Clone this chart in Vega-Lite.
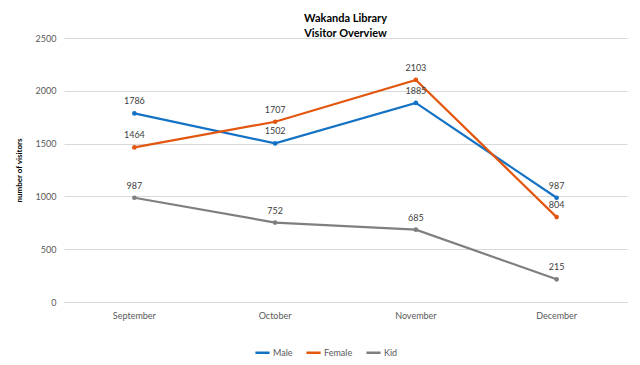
{
  "$schema": "https://vega.github.io/schema/vega-lite/v6.json",
  "width": 640,
  "height": 365,
  "autosize": {"type": "fit", "contains": "padding"},
  "padding": {"left": 15, "right": 13, "top": 13, "bottom": 45},
  "background": "white",
  "title": {
    "text": ["Wakanda Library", "Visitor Overview"],
    "font": "Lato",
    "fontSize": 11,
    "fontWeight": "bold",
    "color": "#000000",
    "lineHeight": 15,
    "anchor": "middle",
    "offset": -5
  },
  "data": {
    "values": [
      {"month": "September", "group": "Male", "visitors": 1786},
      {"month": "October", "group": "Male", "visitors": 1502},
      {"month": "November", "group": "Male", "visitors": 1885},
      {"month": "December", "group": "Male", "visitors": 987},
      {"month": "September", "group": "Female", "visitors": 1464},
      {"month": "October", "group": "Female", "visitors": 1707},
      {"month": "November", "group": "Female", "visitors": 2103},
      {"month": "December", "group": "Female", "visitors": 804},
      {"month": "September", "group": "Kid", "visitors": 987},
      {"month": "October", "group": "Kid", "visitors": 752},
      {"month": "November", "group": "Kid", "visitors": 685},
      {"month": "December", "group": "Kid", "visitors": 215}
    ]
  },
  "encoding": {
    "x": {
      "field": "month",
      "type": "ordinal",
      "sort": ["September", "October", "November", "December"],
      "scale": {"type": "band", "paddingInner": 0, "paddingOuter": 0},
      "axis": {
        "title": null,
        "labelAngle": 0,
        "ticks": false,
        "domain": true,
        "domainColor": "#d9d9d9",
        "labelFont": "Lato",
        "labelFontSize": 9,
        "labelColor": "#595959",
        "labelPadding": 9,
        "grid": false
      }
    },
    "y": {
      "field": "visitors",
      "type": "quantitative",
      "scale": {"domain": [0, 2500]},
      "axis": {
        "title": "number of visitors",
        "titleFont": "Lato",
        "titleFontSize": 8,
        "titleFontWeight": "bold",
        "titleColor": "#000000",
        "titlePadding": 12,
        "values": [0, 500, 1000, 1500, 2000, 2500],
        "format": "d",
        "ticks": false,
        "domain": false,
        "gridColor": "#d9d9d9",
        "labelFont": "Lato",
        "labelFontSize": 9,
        "labelColor": "#595959",
        "labelPadding": 8
      }
    },
    "color": {
      "field": "group",
      "type": "nominal",
      "scale": {"domain": ["Male", "Female", "Kid"], "range": ["#1472C4", "#E2560E", "#7F7F7F"]},
      "legend": {
        "title": null,
        "orient": "none",
        "legendX": 190,
        "legendY": 306,
        "direction": "horizontal",
        "symbolType": "stroke",
        "symbolStrokeWidth": 2.5,
        "symbolSize": 200,
        "labelFont": "Lato",
        "labelFontSize": 9,
        "labelColor": "#595959",
        "labelOffset": 2,
        "columnPadding": 8
      }
    }
  },
  "layer": [
    {
      "mark": {"type": "line", "strokeWidth": 2.2, "point": {"filled": true, "size": 22}}
    },
    {
      "mark": {"type": "text", "dy": -12, "font": "Lato", "fontSize": 9, "color": "#404040"},
      "encoding": {
        "text": {"field": "visitors", "type": "quantitative"},
        "color": {"value": "#404040"}
      }
    }
  ],
  "config": {"view": {"stroke": null}}
}
